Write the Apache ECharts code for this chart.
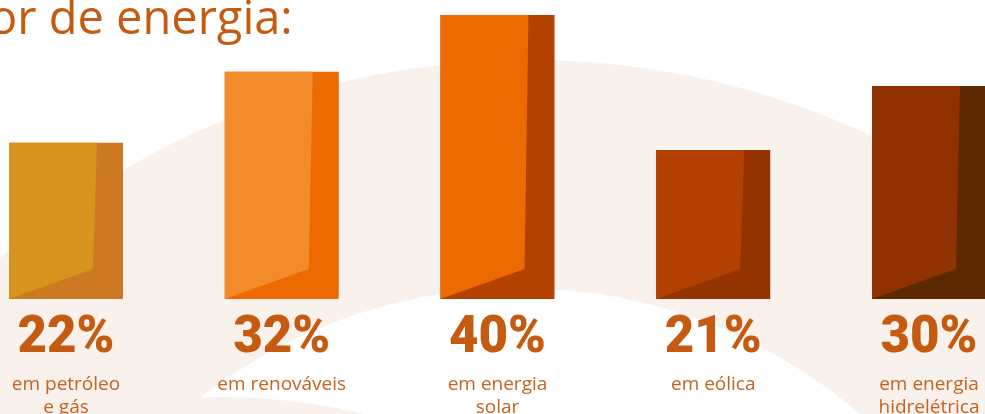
<!DOCTYPE html>
<html>
<head>
<meta charset="utf-8">
<title>energia</title>
<script src="https://cdn.jsdelivr.net/npm/echarts@6/dist/echarts.min.js"></script>
<style>
    html, body { margin: 0; padding: 0; background: #ffffff; }
    #main { width: 985px; height: 414px; }
</style>
</head>
<body>
<div id="main"></div>
<script>
var categories = ["em petróleo\ne gás", "em renováveis", "em energia\nsolar", "em eólica", "em energia\nhidrelétrica"];
var values = [22, 32, 40, 21, 30];
var titleText = "or de energia:";

// cores: face da frente / lado sombreado
var frontColors = ["#d6931e", "#f28c2a", "#ec6a00", "#b34000", "#8f3200"];
var sideColors = ["#cd7924", "#ec6a00", "#b34100", "#923300", "#5c2800"];

var cream = "#f9f1ec";
var textColor = "#c55a11";

var renderBar = function (params, api) {
    var idx = api.value(0);
    var top = api.coord([idx, api.value(1)]);
    var base = api.coord([idx, 0]);
    var w = 114, side = 26, depth = 30;
    var l = base[0] - w / 2, r = base[0] + w / 2, t = top[1], b = base[1];
    var ix = r - side - 4, iy = b - depth;
    return {
        type: "group",
        children: [
            // bloco inteiro na cor do lado, face da frente por cima
            {
                type: "rect",
                shape: {x: l, y: t, width: w, height: b - t},
                style: {fill: sideColors[idx]}
            },
            {
                type: "polygon",
                shape: {points: [[l, t], [r - side, t], [ix, iy], [l, b]]},
                style: {fill: frontColors[idx]}
            },
            {
                type: "text",
                style: {
                    text: api.value(1) + "%",
                    x: base[0], y: b + 40,
                    align: "center", verticalAlign: "middle",
                    fontFamily: "Roboto", fontWeight: 900, fontSize: 51,
                    fill: textColor
                }
            },
            {
                type: "text",
                style: {
                    text: categories[idx],
                    x: base[0], y: b + 74,
                    align: "center", verticalAlign: "top",
                    fontFamily: "Open Sans", fontWeight: "normal", fontSize: 19,
                    lineHeight: 23,
                    fill: "#c8621f"
                }
            }
        ]
    };
};

var myChart = echarts.init(document.getElementById("main"), null, {renderer: "canvas"});
var option = {
    backgroundColor: "#ffffff",
    animation: false,
    graphic: [
        {type: "circle", z: -10, shape: {cx: 530, cy: 868, r: 808}, style: {fill: cream}},
        {type: "circle", z: -9, shape: {cx: 520, cy: 810, r: 522}, style: {fill: "#ffffff"}},
        {type: "circle", z: -8, shape: {cx: 222, cy: 997, r: 600}, style: {fill: cream}},
        {
            type: "text", z: 10, x: -11, y: 21,
            style: {
                text: titleText,
                fontFamily: "Open Sans", fontWeight: "normal", fontSize: 47,
                fill: textColor, verticalAlign: "middle"
            }
        }
    ],
    grid: {left: 66, right: 56, top: 15, bottom: 115},
    xAxis: {
        type: "category",
        boundaryGap: false,
        data: categories,
        show: false
    },
    yAxis: {
        type: "value",
        min: 0,
        max: 40,
        show: false
    },
    series: [
        {
            type: "custom",
            renderItem: renderBar,
            clip: false,
            data: values.map(function (v, i) { return [i, v]; })
        }
    ]
};
myChart.setOption(option);
</script>
</body>
</html>
